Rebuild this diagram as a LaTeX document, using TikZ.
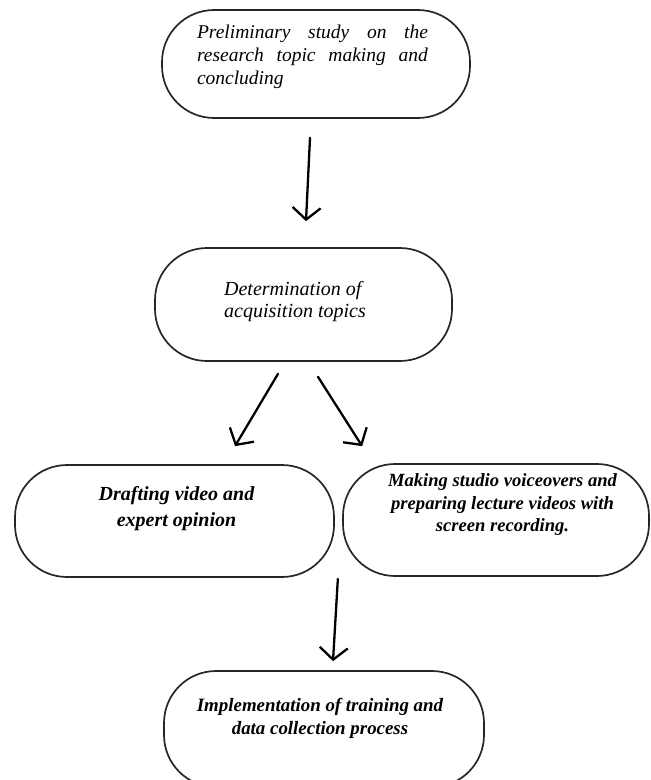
\documentclass[tikz,border=0pt]{standalone}
\usepackage{fontspec}
\setmainfont{Liberation Serif}
\usetikzlibrary{arrows.meta}
\hyphenpenalty=10000

\begin{document}
\begin{tikzpicture}[x=1pt, y=-1pt,
  box/.style={draw=black!85, line width=1.7pt, rounded corners=52pt, inner sep=0pt},
  itxt/.style 2 args={font=\itshape\fontsize{#1}{#2}\selectfont, inner sep=0pt},
  btxt/.style 2 args={font=\bfseries\itshape\fontsize{#1}{#2}\selectfont, align=center, inner sep=0pt},
  arr/.style={line width=2.3pt, line cap=round, line join=round, -{Straight Barb[length=12pt,width=28pt]}}]
  \clip (0,0) rectangle (651,780);
  % boxes
  \node[box, minimum width=308pt, minimum height=108pt] (b1) at (316,64) {};
  \node[box, minimum width=297pt, minimum height=113pt] (b2) at (303.5,304.5) {};
  \node[box, minimum width=319pt, minimum height=112pt] (b3l) at (174.5,521) {};
  \node[box, minimum width=306pt, minimum height=112pt] (b3r) at (496,520) {};
  \node[box, minimum width=320pt, minimum height=116pt] (b5) at (324,729) {};
  % texts
  \node[itxt={19.5}{23}, text width=231pt, align=justify] (t1) at (312.5,57)
    {Preliminary study on the research topic making and concluding};
  \node[itxt={20}{22}, align=left] (t2) at (295,302)
    {Determination of\\acquisition topics};
  \node[btxt={20}{26}] (t3l) at (176.5,509)
    {Drafting video and\\expert opinion};
  \node[btxt={18.6}{22.5}] (t3r) at (502.5,505)
    {Making studio voiceovers and\\preparing lecture videos with\\screen recording.};
  \node[btxt={18.9}{23}] (t5) at (320,718)
    {Implementation of training and\\data collection process};
  % arrows
  \draw[arr] ([shift={(-6,19)}]b1.south) -- ([shift={(2.5,-26)}]b2.north);
  \draw[arr] ([shift={(-25.5,12)}]b2.south) -- ([shift={(60.5,-18)}]b3l.north);
  \draw[arr] ([shift={(14.5,15)}]b2.south) -- ([shift={(20,-17)}]b3r.north west);
  \draw[arr] ([shift={(3,1)}]b3l.south east) -- ([shift={(9,-9)}]b5.north);
\end{tikzpicture}
\end{document}
